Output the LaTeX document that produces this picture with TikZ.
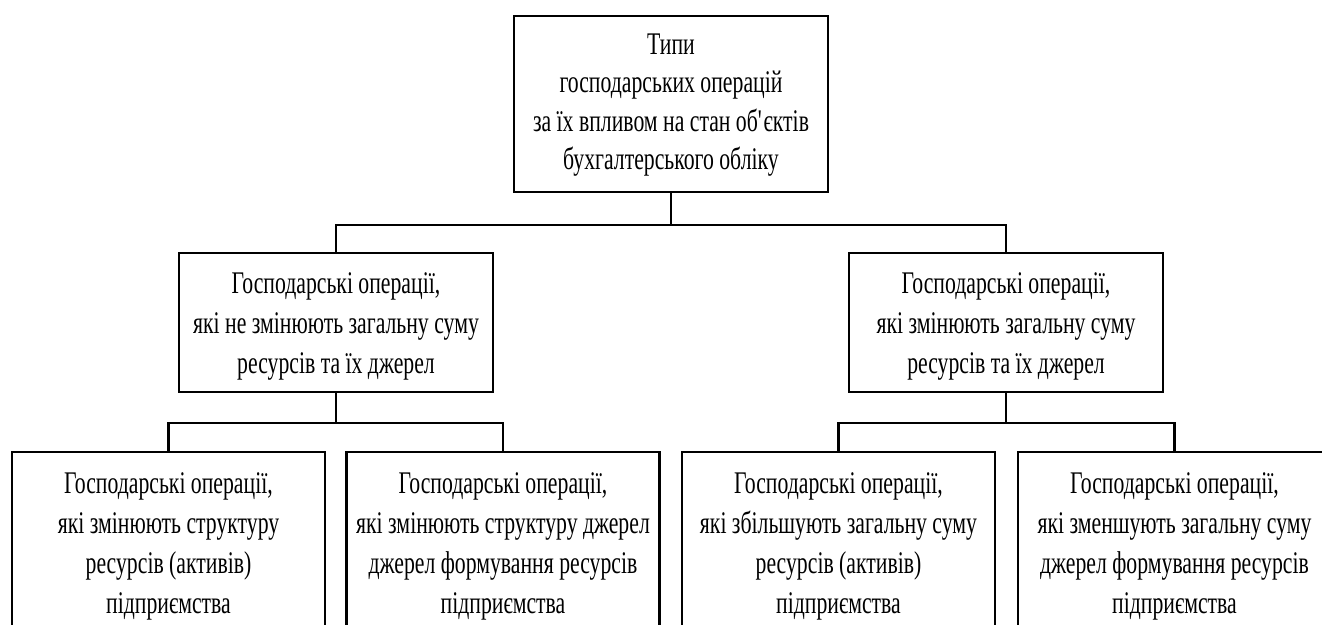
\documentclass[tikz,border=0pt]{standalone}
\usepackage{fontspec}
\setmainfont{Liberation Serif}[FakeStretch=0.69]
\usetikzlibrary{calc}
\begin{document}
\begin{tikzpicture}[x=1pt,y=-1pt,
  frame/.style={draw,line width=2.2pt,inner sep=0pt,minimum width=314pt},
  txt/.style={inner sep=0pt,align=center,font=\fontsize{31.5}{40}\selectfont},
  wire/.style={line width=2.2pt}]
\useasboundingbox (0,0) rectangle (1322,624);
\clip (0,0) rectangle (1322,624);

% root
\node[frame,minimum height=176pt] (root) at (671,104) {};
\node[txt,font=\fontsize{31.5}{38.5}\selectfont] (roott) at ($(root.center)+(0,1)$)
  {Типи\\господарських операцій\\за їх впливом на стан об\textquotesingle єктів\\бухгалтерського обліку};

% second level
\node[frame,minimum height=139pt] (ml) at (336,322.5) {};
\node[txt] (mlt) at ($(ml.center)+(0,4)$)
  {Господарські операції,\\які не змінюють загальну суму\\ресурсів та їх джерел};
\node[frame,minimum height=139pt] (mr) at (1006,322.5) {};
\node[txt] (mrt) at ($(mr.center)+(0,4)$)
  {Господарські операції,\\які змінюють загальну суму\\ресурсів та їх джерел};

% third level
\node[frame,minimum width=313pt,minimum height=192pt] (b1) at (168.5,548) {};
\node[txt] (b1t) at ($(b1.center)+(0,-2)$)
  {Господарські операції,\\які змінюють структуру\\ресурсів (активів)\\підприємства};
\node[frame,minimum width=313pt,minimum height=192pt] (b2) at (503,548) {};
\node[txt] (b2t) at ($(b2.center)+(0,-2)$)
  {Господарські операції,\\які змінюють структуру джерел\\джерел формування ресурсів\\підприємства};
\node[frame,minimum width=313pt,minimum height=192pt] (b3) at (838.5,548) {};
\node[txt] (b3t) at ($(b3.center)+(0,-2)$)
  {Господарські операції,\\які збільшують загальну суму\\ресурсів (активів)\\підприємства};
\node[frame,minimum width=313pt,minimum height=192pt] (b4) at (1174.5,548) {};
\node[txt] (b4t) at ($(b4.center)+(0,-2)$)
  {Господарські операції,\\які зменшують загальну суму\\джерел формування ресурсів\\підприємства};

% connectors
\coordinate (j0) at ($(root.south)+(0,32)$);
\draw[wire] (root.south) -- (j0);
\draw[wire] (j0) -| (ml.north);
\draw[wire] (j0) -| (mr.north);

\coordinate (j1) at ($(ml.south)+(0,30)$);
\draw[wire] (ml.south) -- (j1);
\draw[wire] (j1) -| (b1.north);
\draw[wire] (j1) -| (b2.north);

\coordinate (j2) at ($(mr.south)+(0,30)$);
\draw[wire] (mr.south) -- (j2);
\draw[wire] (j2) -| (b3.north);
\draw[wire] (j2) -| (b4.north);
\end{tikzpicture}
\end{document}
